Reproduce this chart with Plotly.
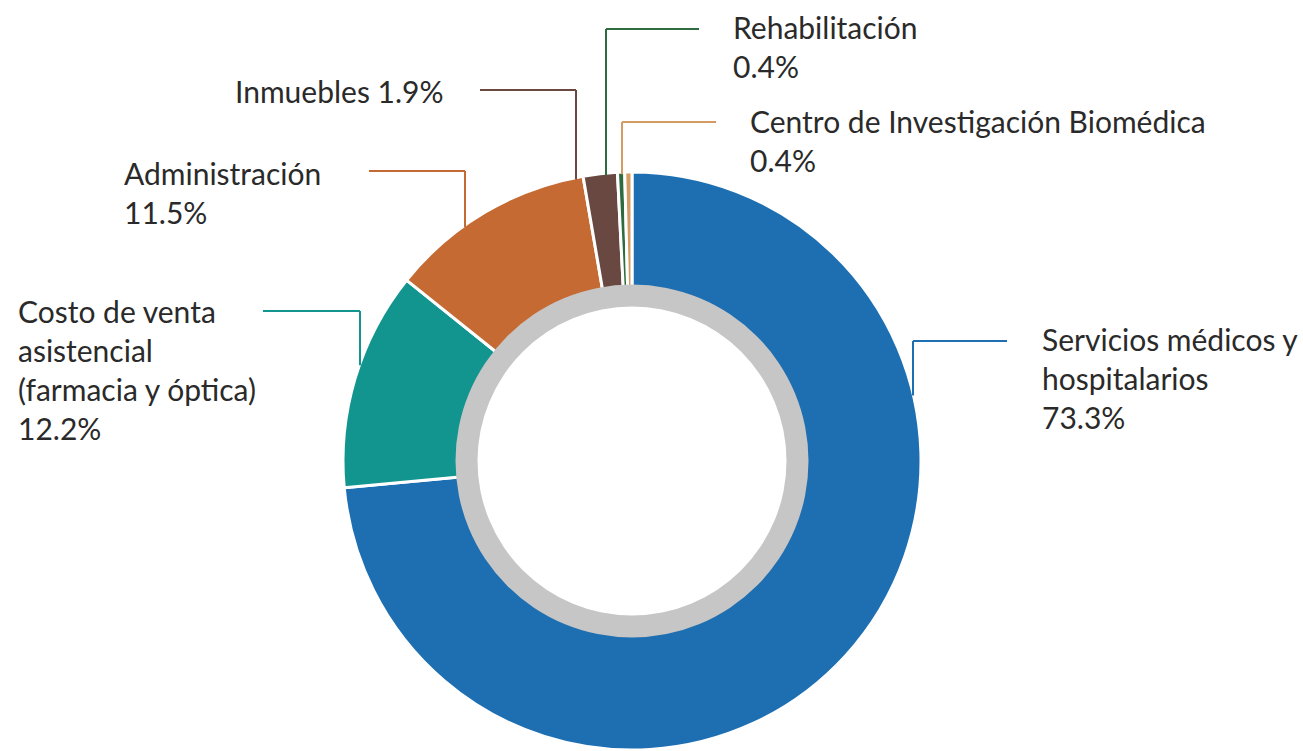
import plotly.graph_objects as go

# slice data (clockwise from 12 o'clock)
categories = [
    "Servicios médicos y hospitalarios",
    "Costo de venta asistencial (farmacia y óptica)",
    "Administración",
    "Inmuebles",
    "Rehabilitación",
    "Centro de Investigación Biomédica",
]
shares = [73.3, 12.2, 11.5, 1.9, 0.4, 0.4]
colors = ["#1e6fb2", "#13958f", "#c46a32", "#684840", "#2e6b3e", "#d49c62"]

# label text as laid out in the chart
label_lines = [
    ["Servicios médicos y", "hospitalarios", "73.3%"],
    ["Costo de venta", "asistencial", "(farmacia y óptica)", "12.2%"],
    ["Administración", "11.5%"],
    ["Inmuebles 1.9%"],
    ["Rehabilitación", "0.4%"],
    ["Centro de Investigación Biomédica", "0.4%"],
]

W, H = 1303, 751
cx, cy, r = 632, 461, 289          # donut centre / outer radius (px)
ring_out, ring_in = 176.5, 154.5   # grey inner ring

# label anchor (left x, middle y) and leader elbow (text-side x, elbow x, y)
label_pos = [(1040, 378), (16, 369), (122, 192), (233, 91), (731, 46), (748, 140)]
leaders = [(1007, 913, 341), (263, 360, 311), (369, 465, 171),
           (480, 576, 90), (699, 606, 29), (716, 622, 122)]


def dom(rad):
    y0 = H - cy
    return dict(x=[(cx - rad) / W, (cx + rad) / W],
                y=[(y0 - rad) / H, (y0 + rad) / H])


fig = go.Figure()

fig.add_trace(go.Pie(
    labels=categories, values=shares, sort=False, direction="clockwise",
    rotation=0, hole=0.6, domain=dom(r), textinfo="none", hoverinfo="label+percent",
    marker=dict(colors=colors, line=dict(color="white", width=3)),
    showlegend=False,
))

fig.add_trace(go.Pie(
    labels=["ring"], values=[1], hole=ring_in / ring_out, domain=dom(ring_out),
    textinfo="none", hoverinfo="skip", sort=False,
    marker=dict(colors=["#c6c6c6"], line=dict(width=0)), showlegend=False,
))

# leader lines: horizontal from the label, then straight down to the outer edge
for (x0, x1, y0), col in zip(leaders, colors):
    y1 = cy - (r ** 2 - (x1 - cx) ** 2) ** 0.5
    fig.add_shape(type="line", x0=x0, y0=y0, x1=x1, y1=y0, xref="x", yref="y",
                  line=dict(color=col, width=2))
    fig.add_shape(type="line", x0=x1, y0=y0, x1=x1, y1=y1 + 2, xref="x", yref="y",
                  line=dict(color=col, width=2))

for lines, (lx, ly) in zip(label_lines, label_pos):
    fig.add_annotation(x=lx, y=ly, xref="x", yref="y", text="<br>".join(lines),
                       showarrow=False, xanchor="left", yanchor="middle", align="left",
                       font=dict(family="Lato", size=30, color="#2a2a2a"))

fig.update_xaxes(range=[0, W], visible=False, fixedrange=True)
fig.update_yaxes(range=[H, 0], visible=False, fixedrange=True)
fig.update_layout(
    width=W, height=H, margin=dict(l=0, r=0, t=0, b=0),
    paper_bgcolor="white", plot_bgcolor="white",
)

# drop the default body margin so the figure sits at the window's corner
fig.write_html("out.html", config={"displayModeBar": False},
               post_script="document.body.style.margin='0';document.body.style.overflow='hidden';")
